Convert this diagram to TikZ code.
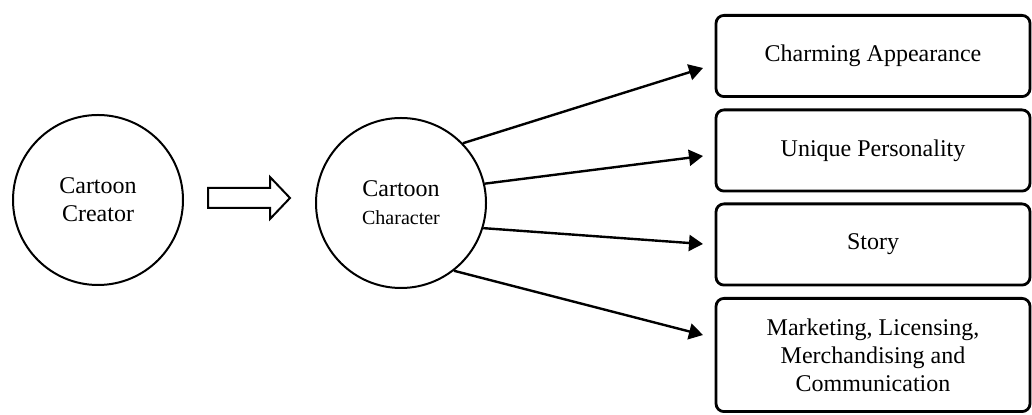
\documentclass[tikz,border=0pt]{standalone}
\usepackage{fontspec}
\setmainfont{Liberation Serif}
\usetikzlibrary{arrows.meta, positioning}

\begin{document}
\begin{tikzpicture}
  [x=0.5pt, y=-0.5pt,
   blob/.style={circle, draw, line width=1pt, minimum size=85pt, inner sep=0pt, align=center, font=\fontsize{12}{14}\selectfont},
   item/.style={rectangle, rounded corners=4pt, draw, line width=1.4pt, minimum width=157pt, minimum height=40.6pt, align=center, font=\fontsize{12}{14}\selectfont},
   link/.style={-{Triangle[length=7pt, width=8pt]}, line width=1.2pt}]
  \useasboundingbox (0,0) rectangle (1032,415);
  \node (creator) at (98,200) [blob] {Cartoon\\Creator};
  \node (character) at (401,203) [blob] {Cartoon\\{\fontsize{10}{12}\selectfont Character}};
  % hollow arrow between the two circles
  \draw [line width=1pt] (208,188) -- (270,188) -- (270,177) -- (290,198) -- (270,219) -- (270,208) -- (208,208) -- cycle;
  \node (look) at (873,56) [item] {Charming Appearance};
  \node (trait) at (873,150.5) [item] {Unique Personality};
  \node (story) at (873,244.5) [item] {Story};
  \node (market) at (873,355) [item, minimum height=56.6pt] {Marketing, Licensing,\\Merchandising and\\Communication};
  \coordinate (look-in) at (703,68);
  \coordinate (trait-in) at (703,156);
  \coordinate (story-in) at (703,244);
  \coordinate (market-in) at (703,335);
  \draw [link] (character.44) to (look-in);
  \draw [link] (character.13) to (trait-in);
  \draw [link] (character.-17) to (story-in);
  \draw [link] (character.-52) to (market-in);
\end{tikzpicture}
\end{document}
